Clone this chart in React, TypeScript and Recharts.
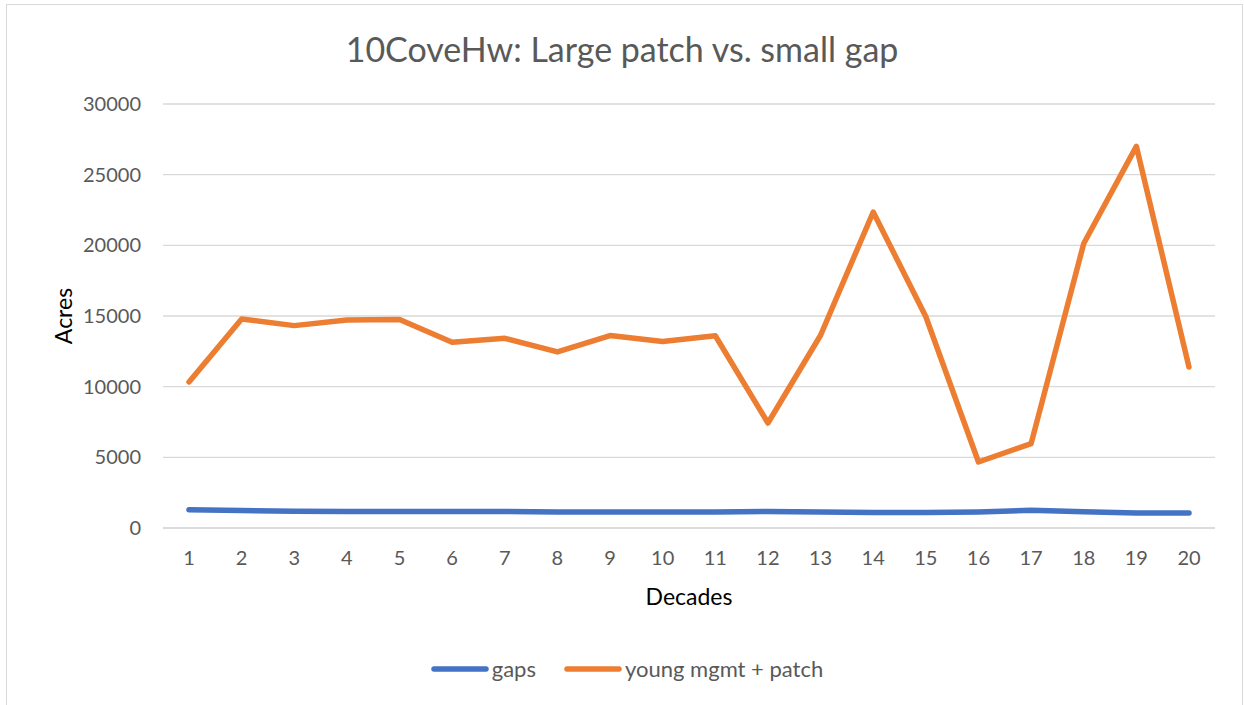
import React from 'react';
import { LineChart, Line, XAxis, YAxis, CartesianGrid, Legend } from 'recharts';

const decades = ['1','2','3','4','5','6','7','8','9','10','11','12','13','14','15','16','17','18','19','20'];
const gaps = [1300, 1230, 1180, 1170, 1170, 1170, 1170, 1140, 1130, 1130, 1130, 1170, 1130, 1100, 1090, 1130, 1250, 1150, 1070, 1060];
const youngPatch = [10330, 14790, 14320, 14720, 14750, 13140, 13420, 12460, 13620, 13190, 13600, 7430, 13640, 22360, 14950, 4670, 5970, 20130, 27000, 11390];
const yTicks = [0, 5000, 10000, 15000, 20000, 25000, 30000];
const seriesNames = ['gaps', 'young mgmt + patch'];
const seriesColors = ['#4472C4', '#ED7D31'];
const title = '10CoveHw: Large patch vs. small gap';

const data = decades.map((d, i) => ({ decade: d, gaps: gaps[i], young: youngPatch[i] }));

const FONT = 'Lato, "Noto Sans", sans-serif';
const GRAY = '#595959';

const LegendContent = () => (
  <div style={{ display: 'flex', justifyContent: 'center', alignItems: 'center', fontFamily: FONT, fontSize: 22, color: GRAY, paddingLeft: 10 }}>
    {seriesNames.map((n, i) => (
      <div key={n} style={{ display: 'flex', alignItems: 'center', marginRight: i === 0 ? 28 : 0 }}>
        <svg width={58} height={10} style={{ marginRight: 3 }}>
          <line x1={3} y1={5} x2={55} y2={5} stroke={seriesColors[i]} strokeWidth={5.5} strokeLinecap="round" />
        </svg>
        <span>{n}</span>
      </div>
    ))}
  </div>
);

const AcresLabel = (props: any) => {
  const vb = props.viewBox || { x: 0, y: 0, width: 0, height: 0 };
  const cx = vb.x + 0;
  const cy = vb.y + vb.height / 2;
  return (
    <text x={cx} y={cy} transform={`rotate(-90 ${cx} ${cy})`} textAnchor="middle" dominantBaseline="central"
      fontFamily={FONT} fontSize={23} fill="#000">Acres</text>
  );
};

export default function App() {
  return (
    <div style={{ position: 'absolute', left: 0, top: 0, width: 1244, height: 705, overflow: 'hidden', background: '#fff' }}>
      <div style={{ position: 'absolute', left: 6, top: 4, width: 1235, height: 800, border: '1.5px solid #D9D9D9' }} />
      <div style={{ position: 'absolute', left: 0, top: 28, width: 1244, textAlign: 'center', fontFamily: FONT, fontSize: 34, color: GRAY, lineHeight: '42px' }}>
        {title}
      </div>
      <div style={{ position: 'absolute', left: 0, top: 0 }}>
        <LineChart width={1244} height={705} data={data} margin={{ top: 104, right: 29, left: 63, bottom: 100 }}>
          <CartesianGrid vertical={false} stroke="#D9D9D9" strokeWidth={1.3} />
          <XAxis dataKey="decade" padding={{ left: 26, right: 26 }} tickLine={false} tickSize={0} tickMargin={23}
            axisLine={{ stroke: '#D9D9D9', strokeWidth: 1.3 }} height={77}
            tick={{ fontFamily: FONT, fontSize: 20, fill: GRAY }} interval={0}
            label={{ value: 'Decades', position: 'insideBottom', offset: 0, fontFamily: FONT, fontSize: 23, fill: '#000' }} />
          <YAxis domain={[0, 30000]} ticks={yTicks} width={100} axisLine={false} tickLine={false} tickSize={0} tickMargin={22}
            tick={{ fontFamily: FONT, fontSize: 20, fill: GRAY }} label={<AcresLabel />} />
          <Legend verticalAlign="middle" align="center" content={<LegendContent />}
            wrapperStyle={{ top: 655, left: 0, width: 1244 }} />
          <Line type="linear" dataKey="gaps" name={seriesNames[0]} stroke={seriesColors[0]} strokeWidth={5.5} dot={false}
            strokeLinejoin="round" strokeLinecap="round" isAnimationActive={false} />
          <Line type="linear" dataKey="young" name={seriesNames[1]} stroke={seriesColors[1]} strokeWidth={5.5} dot={false}
            strokeLinejoin="round" strokeLinecap="round" isAnimationActive={false} />
        </LineChart>
      </div>
    </div>
  );
}
